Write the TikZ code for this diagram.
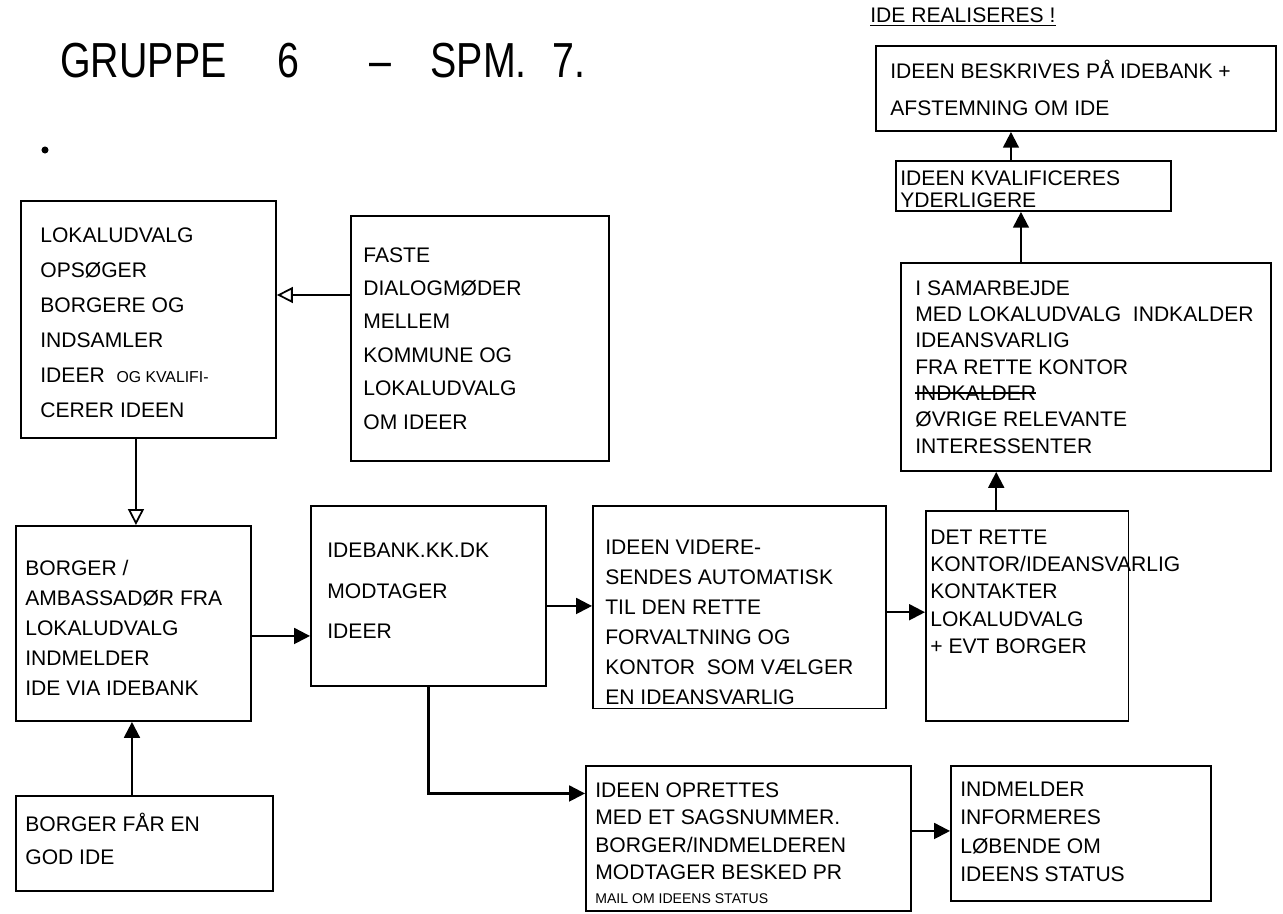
\documentclass[tikz,border=0pt]{standalone}
\usepackage{fontspec}
\setmainfont{Liberation Sans}
\usepackage{graphicx}
\usetikzlibrary{arrows.meta}

\newcommand{\crossout}[1]{\setbox0\hbox{#1}\rlap{\rule[0.3em]{\wd0}{1.2pt}}\box0}

\tikzset{
  box/.style={draw, line width=1.1pt, anchor=north west, inner sep=0pt},
  txt/.style={anchor=north west, inner sep=0pt, align=left, font=\fontsize{12}{#1}\selectfont},
  txt/.default=15pt,
  arr/.style={-{Triangle[length=9pt,width=9pt]}, line width=1.2pt},
  oarr/.style={-{Triangle[open,length=9pt,width=9pt]}, line width=1pt}
}

\begin{document}
\begin{tikzpicture}
\useasboundingbox (0,0) rectangle (25.66,-18.28);
\pgfmathsetmacro{\TitleY}{-0.85}
% TITLE
\node[anchor=north west, inner sep=0pt, font=\fontsize{28}{30}\selectfont] (title) at (1.2,\TitleY)
  {\scalebox{0.8}[1]{GRUPPE\hspace{36pt}6\hspace{50pt}--\hspace{28pt}SPM.\hspace{18pt}7.}};
\fill (0.9,-3.0) circle (2pt);
% BOXES
\node[box, minimum width=5.1cm, minimum height=4.74cm] (A) at (0.4,-4.0) {};
\node[box, minimum width=5.16cm, minimum height=4.9cm] (B) at (7.0,-4.3) {};
\node[box, minimum width=4.7cm, minimum height=3.9cm] (C) at (0.3,-10.5) {};
\node[box, minimum width=5.14cm, minimum height=1.9cm] (L) at (0.3,-15.9) {};
\node[box, minimum width=4.7cm, minimum height=3.6cm] (D) at (6.2,-10.1) {};
\node[box, minimum width=5.86cm, minimum height=4.05cm] (E) at (11.84,-10.1) {};
\node[box, minimum width=4.05cm, minimum height=4.2cm] (F) at (18.5,-10.2) {};
\node[box, minimum width=7.4cm, minimum height=4.16cm] (G) at (18.0,-5.24) {};
\node[box, minimum width=5.5cm, minimum height=1.0cm] (H) at (17.9,-3.2) {};
\node[box, minimum width=8.0cm, minimum height=1.7cm] (I) at (17.5,-0.9) {};
\node[box, minimum width=6.5cm, minimum height=2.9cm] (J) at (11.7,-15.3) {};
\node[box, minimum width=5.2cm, minimum height=2.7cm] (K) at (19.0,-15.3) {};
% TEXTS
\node[txt=20pt] (At) at (0.8,-4.54) {LOKALUDVALG\\OPSØGER\\BORGERE OG\\INDSAMLER\\IDEER \ {\fontsize{9}{10}\selectfont OG KVALIFI-}\\CERER IDEEN};
\node[txt=19pt] (Bt) at (7.26,-4.94) {FASTE\\DIALOGMØDER\\MELLEM\\KOMMUNE OG\\LOKALUDVALG\\OM IDEER};
\node[txt=17pt] (Ct) at (0.5,-11.2) {BORGER /\\AMBASSADØR FRA\\LOKALUDVALG\\INDMELDER\\IDE VIA IDEBANK};
\node[txt=19pt] (Lt) at (0.5,-16.25) {BORGER FÅR EN\\GOD IDE};
\node[txt=23pt] (Dt) at (6.54,-10.86) {IDEBANK.KK.DK\\MODTAGER\\IDEER};
\node[txt=17pt] (Et) at (12.1,-10.8) {IDEEN VIDERE-\\SENDES AUTOMATISK\\TIL DEN RETTE\\FORVALTNING OG\\KONTOR \ SOM VÆLGER\\EN IDEANSVARLIG};
\node[txt=15.4pt] (Ft) at (18.6,-10.6) {DET RETTE\\KONTOR/IDEANSVARLIG\\KONTAKTER\\LOKALUDVALG\\+ EVT BORGER};
\node[txt=15pt] (Gt) at (18.3,-5.6) {I SAMARBEJDE\\MED LOKALUDVALG \ INDKALDER\\IDEANSVARLIG\\FRA RETTE KONTOR\\\crossout{INDKALDER}\\ØVRIGE RELEVANTE\\INTERESSENTER};
\node[txt=12.5pt] (Ht) at (18.0,-3.4) {IDEEN KVALIFICERES\\YDERLIGERE};
\node[txt=21pt] (It) at (17.8,-1.2) {IDEEN BESKRIVES PÅ IDEBANK +\\AFSTEMNING OM IDE};
\node[txt] (head) at (17.4,-0.15) {\underline{IDE REALISERES !}};
\node[txt=15.5pt] (Jt) at (11.9,-15.65) {IDEEN OPRETTES\\MED ET SAGSNUMMER.\\BORGER/INDMELDEREN\\MODTAGER BESKED PR\\[-2pt]{\fontsize{8}{9}\selectfont MAIL OM IDEENS STATUS}};
\node[txt=16pt] (Kt) at (19.2,-15.64) {INDMELDER\\INFORMERES\\LØBENDE OM\\IDEENS STATUS};
% ARROWS
\draw[oarr] ([yshift=-1.6cm]B.north west) -- ([yshift=-1.6cm]B.north west -| A.east);
\draw[oarr] ([xshift=-0.25cm]A.south) -- ([xshift=-0.25cm]A.south |- C.north);
\draw[arr] ([xshift=-0.25cm]L.north) -- ([xshift=-0.25cm]L.north |- C.south);
\draw[arr] ([yshift=-0.25cm]C.east) -- ([yshift=-0.25cm]C.east -| D.west);
\draw[arr] ([yshift=-0.2cm]D.east) -- ([yshift=-0.2cm]D.east -| E.west);
\draw[arr] ([yshift=-0.1cm]E.east) -- ([yshift=-0.1cm]E.east -| F.west);
\draw[arr] ([xshift=-0.62cm]F.north) -- ([xshift=-0.62cm]F.north |- G.south);
\draw[arr] ([xshift=-0.25cm]H.south |- G.north) -- ([xshift=-0.25cm]H.south);
\draw[arr] ([xshift=-0.45cm]H.north) -- ([xshift=-0.45cm]H.north |- I.south);
\draw[arr] (D.south) |- ([yshift=0.9cm]J.west);
\draw[arr] ([yshift=0.15cm]J.east) -- ([yshift=0.15cm]J.east -| K.west);
\end{tikzpicture}
\end{document}
